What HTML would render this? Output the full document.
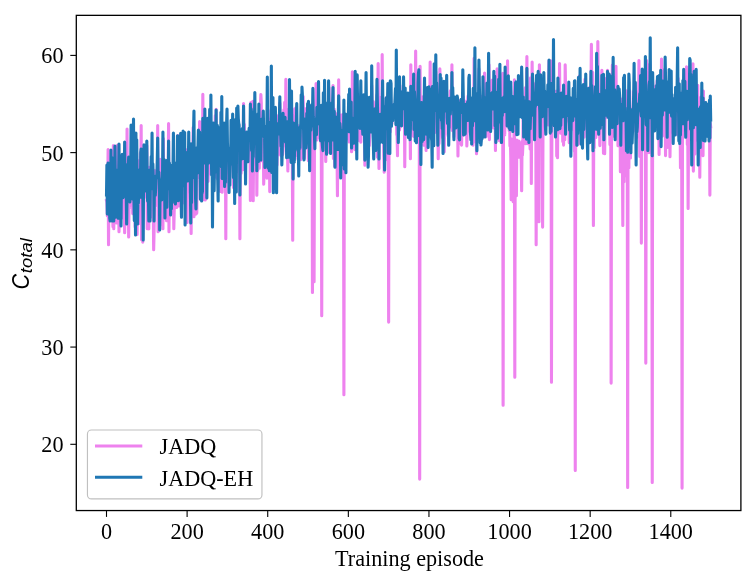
<!DOCTYPE html>
<html><head><meta charset="utf-8"><style>
html,body{margin:0;padding:0;background:#fff;}
body{width:755px;height:583px;overflow:hidden;}
svg{display:block;will-change:transform;}
.t{font-family:"Liberation Serif",serif;font-size:22.2px;fill:#000;}
.s{font-family:"Liberation Sans",sans-serif;font-style:italic;fill:#000;}
</style></head><body>
<svg width="755" height="583" viewBox="0 0 755 583">
<rect x="0" y="0" width="755" height="583" fill="#fff"/>
<defs><clipPath id="c"><rect x="76.3" y="15.35" width="664.6" height="495.1"/></clipPath></defs>
<g clip-path="url(#c)" fill="none" stroke-width="3.1" stroke-linejoin="round" stroke-linecap="square">
<polyline stroke="#ee82ee" points="106.50,200.5 106.90,201.7 107.31,215.8 107.71,190.5 108.11,149.5 108.52,244.8 108.92,196.6 109.32,184.4 109.72,199.7 110.13,209.1 110.53,206.5 110.93,193.0 111.34,203.3 111.74,208.8 112.14,202.6 112.55,207.3 112.95,226.7 113.35,145.5 113.76,228.8 114.16,192.5 114.56,198.8 114.96,202.8 115.37,219.0 115.77,210.8 116.17,196.3 116.58,223.0 116.98,200.1 117.38,145.2 117.79,181.5 118.19,180.5 118.59,188.1 118.99,231.8 119.40,204.6 119.80,214.0 120.20,202.9 120.61,195.6 121.01,198.6 121.41,200.6 121.82,214.6 122.22,195.8 122.62,217.6 123.03,200.6 123.43,211.3 123.83,196.7 124.23,203.1 124.64,232.8 125.04,197.0 125.44,185.1 125.85,174.8 126.25,161.7 126.65,203.8 127.06,129.0 127.46,218.8 127.86,212.3 128.27,193.5 128.67,237.0 129.07,200.1 129.47,207.9 129.88,194.6 130.28,184.5 130.68,182.7 131.09,183.5 131.49,201.1 131.89,176.9 132.30,152.5 132.70,213.6 133.10,175.3 133.51,196.7 133.91,197.7 134.31,201.8 134.71,197.8 135.12,226.9 135.52,207.1 135.92,199.4 136.33,200.8 136.73,197.1 137.13,234.4 137.54,185.4 137.94,203.3 138.34,198.0 138.74,160.9 139.15,188.6 139.55,223.5 139.95,207.9 140.36,153.1 140.76,188.1 141.16,125.5 141.57,239.8 141.97,174.3 142.37,165.2 142.78,242.1 143.18,194.3 143.58,189.7 143.98,163.7 144.39,192.7 144.79,191.9 145.19,196.9 145.60,148.5 146.00,179.8 146.40,184.7 146.81,145.5 147.21,228.8 147.61,199.9 148.02,188.7 148.42,219.4 148.82,229.0 149.22,167.3 149.63,184.2 150.03,197.7 150.43,206.3 150.84,168.0 151.24,182.3 151.64,194.4 152.05,201.0 152.45,217.2 152.85,212.6 153.25,206.5 153.66,249.8 154.06,232.3 154.46,197.3 154.87,170.5 155.27,184.5 155.67,196.7 156.08,189.5 156.48,191.1 156.88,204.5 157.29,205.6 157.69,125.5 158.09,231.8 158.49,188.7 158.90,229.4 159.30,194.0 159.70,225.8 160.11,159.4 160.51,208.8 160.91,191.7 161.32,197.0 161.72,177.5 162.12,190.7 162.53,182.3 162.93,228.8 163.33,138.5 163.73,209.7 164.14,193.7 164.54,177.3 164.94,180.0 165.35,187.1 165.75,200.2 166.15,170.0 166.56,220.8 166.96,213.7 167.36,178.6 167.77,190.9 168.17,182.9 168.57,123.5 168.97,231.8 169.38,185.6 169.78,188.6 170.18,189.6 170.59,191.8 170.99,204.0 171.39,177.1 171.80,171.6 172.20,182.5 172.60,187.1 173.00,213.1 173.41,191.6 173.81,228.8 174.21,211.0 174.62,177.7 175.02,177.3 175.42,183.2 175.83,178.9 176.23,189.5 176.63,207.5 177.04,171.0 177.44,185.7 177.84,135.5 178.24,205.8 178.65,206.0 179.05,192.1 179.45,201.8 179.86,165.2 180.26,171.7 180.66,157.8 181.07,196.2 181.47,215.2 181.87,138.1 182.28,192.8 182.68,189.3 183.08,203.0 183.48,173.4 183.89,188.4 184.29,171.6 184.69,157.0 185.10,189.7 185.50,149.4 185.90,187.4 186.31,173.6 186.71,180.5 187.11,222.4 187.52,171.5 187.92,179.8 188.32,176.2 188.72,168.2 189.13,179.6 189.53,167.1 189.93,191.6 190.34,183.0 190.74,172.0 191.14,233.4 191.55,174.0 191.95,184.2 192.35,186.8 192.75,169.7 193.16,127.6 193.56,198.5 193.96,216.8 194.37,162.6 194.77,160.8 195.17,174.7 195.58,179.5 195.98,214.2 196.38,212.7 196.79,213.1 197.19,165.3 197.59,178.3 197.99,172.9 198.40,163.4 198.80,144.7 199.20,158.2 199.61,121.5 200.01,147.9 200.41,155.4 200.82,137.2 201.22,176.5 201.62,171.8 202.03,189.8 202.43,172.1 202.83,94.2 203.23,176.2 203.64,199.8 204.04,164.8 204.44,174.6 204.85,157.0 205.25,200.0 205.65,172.4 206.06,151.4 206.46,158.1 206.86,150.8 207.26,152.2 207.67,159.8 208.07,181.5 208.47,164.9 208.88,157.3 209.28,163.0 209.68,156.2 210.09,173.8 210.49,133.9 210.89,156.4 211.30,157.7 211.70,149.1 212.10,172.7 212.50,148.5 212.91,155.5 213.31,131.1 213.71,172.8 214.12,157.5 214.52,167.3 214.92,149.4 215.33,115.5 215.73,154.6 216.13,109.3 216.54,177.5 216.94,155.7 217.34,178.5 217.74,127.4 218.15,161.9 218.55,151.5 218.95,159.4 219.36,149.4 219.76,184.2 220.16,154.1 220.57,191.4 220.97,139.2 221.37,159.4 221.78,159.9 222.18,192.2 222.58,155.9 222.98,160.9 223.39,132.9 223.79,154.0 224.19,169.0 224.60,138.7 225.00,159.1 225.40,149.7 225.81,238.8 226.21,140.4 226.61,172.8 227.01,165.6 227.42,155.4 227.82,155.7 228.22,166.9 228.63,161.7 229.03,182.1 229.43,182.4 229.84,157.6 230.24,163.0 230.64,159.0 231.05,151.4 231.45,156.2 231.85,164.9 232.25,158.6 232.66,160.9 233.06,156.6 233.46,187.4 233.87,167.2 234.27,139.6 234.67,169.5 235.08,179.8 235.48,169.5 235.88,151.9 236.29,152.8 236.69,147.6 237.09,129.0 237.49,155.9 237.90,171.7 238.30,166.0 238.70,161.0 239.11,170.6 239.51,160.3 239.91,238.8 240.32,166.5 240.72,150.8 241.12,173.2 241.53,148.8 241.93,132.8 242.33,161.1 242.73,134.2 243.14,169.6 243.54,103.5 243.94,162.4 244.35,124.3 244.75,152.7 245.15,156.6 245.56,134.6 245.96,153.5 246.36,135.3 246.76,144.0 247.17,145.9 247.57,152.5 247.97,133.2 248.38,137.0 248.78,157.8 249.18,154.4 249.59,146.5 249.99,140.7 250.39,200.4 250.80,102.5 251.20,140.5 251.60,161.1 252.00,134.5 252.41,155.0 252.81,101.3 253.21,200.8 253.62,147.9 254.02,150.0 254.42,158.1 254.83,162.3 255.23,133.0 255.63,127.4 256.04,159.0 256.44,129.1 256.84,195.2 257.24,150.9 257.65,171.4 258.05,153.4 258.45,138.8 258.86,134.3 259.26,168.3 259.66,146.4 260.07,142.1 260.47,105.3 260.87,94.5 261.28,102.7 261.68,160.8 262.08,128.9 262.48,124.8 262.89,141.4 263.29,127.2 263.69,184.2 264.10,169.9 264.50,156.8 264.90,130.1 265.31,163.6 265.71,136.9 266.11,140.6 266.51,134.3 266.92,178.1 267.32,133.8 267.72,149.0 268.13,144.0 268.53,146.7 268.93,119.3 269.34,141.3 269.74,191.6 270.14,142.0 270.55,127.8 270.95,110.4 271.35,134.7 271.75,148.9 272.16,99.5 272.56,108.0 272.96,144.2 273.37,158.5 273.77,136.7 274.17,142.2 274.58,128.7 274.98,129.5 275.38,137.4 275.79,126.8 276.19,137.1 276.59,121.7 276.99,165.0 277.40,143.8 277.80,115.9 278.20,126.1 278.61,154.3 279.01,135.5 279.41,130.7 279.82,103.1 280.22,146.0 280.62,142.2 281.02,155.8 281.43,125.6 281.83,149.8 282.23,154.7 282.64,154.5 283.04,149.6 283.44,139.1 283.85,109.8 284.25,145.3 284.65,102.4 285.06,118.2 285.46,138.5 285.86,79.3 286.26,140.0 286.67,156.6 287.07,128.2 287.47,152.8 287.88,170.9 288.28,109.6 288.68,139.7 289.09,148.4 289.49,148.8 289.89,133.0 290.30,150.2 290.70,133.8 291.10,125.6 291.50,136.9 291.91,139.5 292.31,149.9 292.71,240.2 293.12,115.6 293.52,138.8 293.92,132.5 294.33,143.2 294.73,108.7 295.13,141.6 295.54,147.6 295.94,107.8 296.34,108.7 296.74,155.5 297.15,155.8 297.55,125.2 297.95,159.0 298.36,134.9 298.76,137.7 299.16,136.5 299.57,132.6 299.97,153.8 300.37,139.9 300.77,159.6 301.18,140.1 301.58,158.1 301.98,137.2 302.39,136.0 302.79,137.9 303.19,96.5 303.60,143.8 304.00,121.4 304.40,158.3 304.81,108.6 305.21,139.8 305.61,141.9 306.01,134.3 306.42,115.9 306.82,142.8 307.22,127.8 307.63,126.4 308.03,136.7 308.43,160.7 308.84,114.1 309.24,129.3 309.64,134.7 310.05,123.9 310.45,149.0 310.85,131.6 311.25,109.5 311.66,116.5 312.06,115.4 312.46,292.4 312.87,145.1 313.27,112.0 313.67,114.9 314.08,281.8 314.48,128.6 314.88,125.4 315.29,125.0 315.69,114.0 316.09,83.5 316.49,126.1 316.90,139.9 317.30,97.5 317.70,125.3 318.11,123.0 318.51,137.8 318.91,130.9 319.32,126.2 319.72,113.9 320.12,130.2 320.52,141.6 320.93,133.6 321.33,153.4 321.73,315.8 322.14,119.9 322.54,116.0 322.94,134.1 323.35,134.6 323.75,127.5 324.15,132.9 324.56,123.7 324.96,137.3 325.36,130.0 325.76,161.4 326.17,127.5 326.57,129.9 326.97,116.2 327.38,149.3 327.78,137.4 328.18,113.3 328.59,118.3 328.99,87.5 329.39,152.5 329.80,116.9 330.20,142.0 330.60,130.1 331.00,105.2 331.41,120.7 331.81,123.5 332.21,140.4 332.62,128.4 333.02,85.5 333.42,158.5 333.83,132.8 334.23,109.1 334.63,166.3 335.04,137.5 335.44,131.1 335.84,118.4 336.24,138.1 336.65,113.8 337.05,156.6 337.45,195.8 337.86,138.9 338.26,141.4 338.66,79.9 339.07,131.8 339.47,143.6 339.87,115.3 340.27,138.3 340.68,140.4 341.08,122.5 341.48,115.0 341.89,153.0 342.29,149.9 342.69,114.6 343.10,134.4 343.50,120.2 343.90,394.8 344.31,154.7 344.71,136.1 345.11,139.7 345.51,124.4 345.92,139.9 346.32,135.1 346.72,125.9 347.13,129.7 347.53,121.7 347.93,131.6 348.34,118.0 348.74,127.5 349.14,142.0 349.55,132.2 349.95,130.3 350.35,111.1 350.75,138.6 351.16,130.0 351.56,151.8 351.96,148.9 352.37,71.7 352.77,126.7 353.17,134.3 353.58,107.5 353.98,98.0 354.38,134.4 354.78,129.4 355.19,149.7 355.59,118.3 355.99,123.5 356.40,133.0 356.80,125.7 357.20,136.3 357.61,119.4 358.01,135.5 358.41,136.5 358.82,140.4 359.22,118.1 359.62,140.5 360.02,114.4 360.43,122.2 360.83,142.2 361.23,123.6 361.64,122.0 362.04,115.6 362.44,119.9 362.85,119.3 363.25,124.9 363.65,120.5 364.06,114.0 364.46,107.6 364.86,165.2 365.26,122.9 365.67,106.2 366.07,114.6 366.47,124.2 366.88,110.5 367.28,139.6 367.68,121.2 368.09,125.9 368.49,125.4 368.89,106.3 369.30,145.8 369.70,135.6 370.10,105.4 370.50,123.0 370.91,121.9 371.31,115.3 371.71,85.5 372.12,113.3 372.52,125.7 372.92,120.0 373.33,101.6 373.73,112.2 374.13,107.1 374.53,126.4 374.94,124.2 375.34,119.8 375.74,124.3 376.15,127.1 376.55,112.4 376.95,94.7 377.36,157.1 377.76,109.9 378.16,63.5 378.57,129.1 378.97,168.5 379.37,103.2 379.77,118.4 380.18,137.1 380.58,97.3 380.98,111.1 381.39,123.2 381.79,133.5 382.19,54.5 382.60,116.4 383.00,121.2 383.40,119.7 383.81,155.8 384.21,172.2 384.61,161.2 385.01,106.9 385.42,109.2 385.82,114.6 386.22,97.7 386.63,102.2 387.03,118.5 387.43,159.8 387.84,110.2 388.24,105.5 388.64,322.1 389.05,110.0 389.45,83.7 389.85,96.4 390.25,131.8 390.66,97.9 391.06,119.1 391.46,113.2 391.87,123.9 392.27,115.1 392.67,106.0 393.08,104.9 393.48,106.0 393.88,105.8 394.28,106.5 394.69,108.3 395.09,116.4 395.49,114.4 395.90,91.7 396.30,111.6 396.70,134.7 397.11,135.7 397.51,155.8 397.91,100.4 398.32,106.9 398.72,98.7 399.12,105.3 399.52,130.0 399.93,125.0 400.33,110.1 400.73,111.9 401.14,115.6 401.54,115.4 401.94,114.9 402.35,116.1 402.75,111.6 403.15,85.5 403.56,113.8 403.96,113.7 404.36,99.3 404.76,166.8 405.17,113.9 405.57,108.7 405.97,120.9 406.38,106.3 406.78,116.2 407.18,115.2 407.59,98.5 407.99,107.8 408.39,110.2 408.79,108.7 409.20,97.1 409.60,106.4 410.00,114.6 410.41,158.8 410.81,64.8 411.21,112.2 411.62,113.2 412.02,105.5 412.42,122.6 412.83,95.9 413.23,136.0 413.63,116.4 414.03,136.5 414.44,116.1 414.84,111.9 415.24,112.7 415.65,51.1 416.05,116.9 416.45,114.3 416.86,105.2 417.26,105.2 417.66,115.9 418.07,117.1 418.47,128.3 418.87,104.0 419.27,117.8 419.68,479.1 420.08,66.2 420.48,117.9 420.89,133.2 421.29,102.9 421.69,105.6 422.10,123.1 422.50,117.6 422.90,96.8 423.31,121.6 423.71,145.1 424.11,123.6 424.51,143.3 424.92,123.6 425.32,110.9 425.72,126.9 426.13,150.4 426.53,95.9 426.93,112.6 427.34,143.3 427.74,121.1 428.14,113.2 428.54,123.5 428.95,122.6 429.35,103.3 429.75,116.4 430.16,62.1 430.56,99.7 430.96,118.4 431.37,99.9 431.77,109.9 432.17,125.9 432.58,112.9 432.98,128.9 433.38,123.7 433.78,120.2 434.19,102.5 434.59,115.2 434.99,132.5 435.40,119.7 435.80,71.7 436.20,116.1 436.61,115.3 437.01,115.8 437.41,113.9 437.82,127.4 438.22,158.8 438.62,130.7 439.02,143.6 439.43,134.2 439.83,68.9 440.23,80.6 440.64,82.4 441.04,103.5 441.44,116.3 441.85,109.9 442.25,100.4 442.65,137.5 443.06,113.7 443.46,104.9 443.86,115.4 444.26,151.7 444.67,121.4 445.07,135.4 445.47,98.8 445.88,121.6 446.28,110.2 446.68,110.8 447.09,113.4 447.49,113.5 447.89,123.5 448.29,109.0 448.70,113.6 449.10,113.0 449.50,117.4 449.91,115.8 450.31,90.9 450.71,126.9 451.12,118.0 451.52,102.9 451.92,64.8 452.33,130.4 452.73,128.6 453.13,112.3 453.53,107.1 453.94,136.8 454.34,120.2 454.74,117.8 455.15,112.0 455.55,126.3 455.95,104.7 456.36,123.7 456.76,122.2 457.16,113.9 457.57,110.4 457.97,155.9 458.37,110.6 458.77,111.1 459.18,106.7 459.58,120.7 459.98,100.8 460.39,112.1 460.79,110.8 461.19,144.2 461.60,145.1 462.00,113.0 462.40,103.0 462.81,135.1 463.21,96.7 463.61,129.7 464.01,114.6 464.42,100.8 464.82,108.9 465.22,104.5 465.63,110.3 466.03,121.9 466.43,110.3 466.84,146.0 467.24,129.3 467.64,101.4 468.04,96.0 468.45,115.4 468.85,106.7 469.25,103.2 469.66,131.0 470.06,111.7 470.46,102.8 470.87,111.0 471.27,110.6 471.67,119.4 472.08,106.9 472.48,109.0 472.88,145.1 473.28,122.2 473.69,129.2 474.09,58.2 474.49,116.3 474.90,141.6 475.30,122.4 475.70,118.2 476.11,97.6 476.51,153.8 476.91,103.6 477.32,121.6 477.72,116.2 478.12,109.2 478.52,137.8 478.93,68.9 479.33,104.5 479.73,105.2 480.14,125.6 480.54,104.6 480.94,122.0 481.35,96.2 481.75,97.4 482.15,102.6 482.55,99.7 482.96,104.4 483.36,95.7 483.76,92.2 484.17,102.4 484.57,73.0 484.97,101.4 485.38,103.2 485.78,131.5 486.18,136.8 486.59,108.4 486.99,128.2 487.39,104.8 487.79,99.4 488.20,108.0 488.60,118.4 489.00,64.8 489.41,139.6 489.81,105.7 490.21,106.7 490.62,109.8 491.02,105.1 491.42,94.9 491.83,97.2 492.23,80.1 492.63,121.2 493.03,109.3 493.44,127.9 493.84,100.4 494.24,106.5 494.65,106.8 495.05,91.7 495.45,150.4 495.86,107.7 496.26,103.6 496.66,101.4 497.07,68.9 497.47,85.6 497.87,107.5 498.27,95.5 498.68,86.2 499.08,140.5 499.48,120.9 499.89,101.9 500.29,104.9 500.69,96.7 501.10,142.5 501.50,101.1 501.90,117.6 502.30,113.5 502.71,73.4 503.11,405.2 503.51,106.2 503.92,80.6 504.32,125.4 504.72,134.9 505.13,110.7 505.53,103.6 505.93,100.0 506.34,95.7 506.74,109.4 507.14,97.0 507.54,60.7 507.95,113.3 508.35,120.5 508.75,110.6 509.16,130.8 509.56,117.1 509.96,145.9 510.37,138.4 510.77,157.5 511.17,199.8 511.58,156.8 511.98,139.3 512.38,140.4 512.78,140.9 513.19,201.8 513.59,158.3 513.99,138.6 514.40,79.9 514.80,377.2 515.20,151.4 515.61,155.0 516.01,151.4 516.41,195.8 516.82,140.0 517.22,157.4 517.62,145.1 518.02,141.7 518.43,145.2 518.83,141.1 519.23,157.1 519.64,143.3 520.04,152.6 520.44,148.3 520.85,152.4 521.25,161.2 521.65,190.8 522.05,141.4 522.46,155.2 522.86,145.7 523.26,99.5 523.67,105.9 524.07,112.0 524.47,105.6 524.88,97.0 525.28,87.8 525.68,143.8 526.09,115.6 526.49,105.6 526.89,56.5 527.29,118.7 527.70,112.5 528.10,143.7 528.50,120.3 528.91,130.5 529.31,109.1 529.71,117.0 530.12,149.0 530.52,77.9 530.92,108.0 531.33,183.4 531.73,100.6 532.13,62.1 532.53,108.5 532.94,87.2 533.34,96.2 533.74,84.3 534.15,114.5 534.55,83.8 534.95,126.9 535.36,109.0 535.76,105.4 536.16,244.8 536.57,104.9 536.97,100.3 537.37,120.9 537.77,107.4 538.18,77.2 538.58,128.4 538.98,221.8 539.39,64.8 539.79,99.6 540.19,105.8 540.60,111.6 541.00,89.0 541.40,103.4 541.80,100.0 542.21,118.6 542.61,227.1 543.01,125.1 543.42,78.4 543.82,124.7 544.22,102.6 544.63,92.6 545.03,98.4 545.43,126.5 545.84,92.8 546.24,114.2 546.64,119.7 547.04,97.6 547.45,105.2 547.85,103.6 548.25,124.9 548.66,92.4 549.06,60.7 549.46,107.4 549.87,89.9 550.27,96.4 550.67,60.7 551.08,107.1 551.48,382.2 551.88,117.5 552.28,96.4 552.69,122.3 553.09,99.6 553.49,122.4 553.90,110.6 554.30,110.7 554.70,107.5 555.11,113.5 555.51,100.6 555.91,112.3 556.31,91.0 556.72,155.9 557.12,137.2 557.52,157.8 557.93,99.7 558.33,124.5 558.73,109.9 559.14,106.5 559.54,63.5 559.94,107.3 560.35,107.6 560.75,133.2 561.15,116.8 561.55,97.6 561.96,118.2 562.36,112.2 562.76,141.4 563.17,104.6 563.57,145.1 563.97,111.2 564.38,102.9 564.78,139.8 565.18,64.8 565.59,89.9 565.99,105.3 566.39,111.8 566.79,107.2 567.20,113.9 567.60,103.0 568.00,121.1 568.41,115.3 568.81,117.0 569.21,142.7 569.62,103.7 570.02,113.7 570.42,103.2 570.83,109.6 571.23,114.9 571.63,122.4 572.03,105.1 572.44,125.4 572.84,121.9 573.24,115.3 573.65,130.3 574.05,114.5 574.45,151.6 574.86,144.7 575.26,470.4 575.66,142.7 576.06,125.0 576.47,117.2 576.87,119.4 577.27,126.8 577.68,144.6 578.08,135.3 578.48,144.2 578.89,114.2 579.29,76.1 579.69,101.9 580.10,113.5 580.50,97.3 580.90,117.0 581.30,99.0 581.71,109.5 582.11,109.1 582.51,140.8 582.92,113.4 583.32,96.6 583.72,121.8 584.13,137.3 584.53,119.2 584.93,79.2 585.34,125.7 585.74,101.7 586.14,123.6 586.54,123.6 586.95,116.8 587.35,89.4 587.75,107.7 588.16,95.1 588.56,120.7 588.96,87.7 589.37,109.5 589.77,118.7 590.17,123.1 590.58,108.8 590.98,89.6 591.38,44.2 591.78,104.4 592.19,110.3 592.59,72.2 592.99,104.6 593.40,225.4 593.80,117.6 594.20,147.8 594.61,112.1 595.01,95.5 595.41,101.1 595.81,137.5 596.22,93.0 596.62,114.9 597.02,106.7 597.43,116.9 597.83,41.5 598.23,91.5 598.64,110.1 599.04,101.1 599.44,118.3 599.85,145.6 600.25,93.2 600.65,99.7 601.05,95.4 601.46,104.3 601.86,70.3 602.26,109.6 602.67,103.7 603.07,107.5 603.47,153.2 603.88,121.5 604.28,95.8 604.68,153.8 605.09,109.1 605.49,107.0 605.89,78.5 606.29,114.7 606.70,117.3 607.10,106.4 607.50,70.3 607.91,113.6 608.31,86.9 608.71,87.0 609.12,110.8 609.52,108.0 609.92,144.6 610.33,102.8 610.73,99.6 611.13,383.1 611.53,125.3 611.94,116.4 612.34,65.1 612.74,97.6 613.15,136.2 613.55,113.6 613.95,110.2 614.36,92.4 614.76,103.8 615.16,77.4 615.56,125.2 615.97,66.2 616.37,113.4 616.77,122.2 617.18,98.9 617.58,106.6 617.98,145.8 618.39,118.0 618.79,115.7 619.19,95.1 619.60,135.7 620.00,105.9 620.40,171.8 620.80,128.5 621.21,99.0 621.61,113.3 622.01,117.5 622.42,156.8 622.82,225.4 623.22,113.1 623.63,121.0 624.03,181.8 624.43,97.1 624.84,105.6 625.24,175.8 625.64,121.3 626.04,114.8 626.45,108.8 626.85,90.8 627.25,125.3 627.66,487.4 628.06,124.3 628.46,143.3 628.87,167.8 629.27,120.4 629.67,90.7 630.07,123.8 630.48,157.9 630.88,110.4 631.28,130.7 631.69,117.0 632.09,126.4 632.49,123.3 632.90,108.2 633.30,114.1 633.70,91.6 634.11,94.2 634.51,106.2 634.91,121.4 635.31,110.3 635.72,131.1 636.12,118.6 636.52,137.6 636.93,124.8 637.33,111.1 637.73,91.7 638.14,112.3 638.54,112.8 638.94,60.6 639.35,96.0 639.75,156.4 640.15,126.0 640.55,107.4 640.96,79.8 641.36,243.1 641.76,113.1 642.17,147.8 642.57,73.5 642.97,119.2 643.38,144.4 643.78,146.4 644.18,114.4 644.59,122.7 644.99,117.4 645.39,68.3 645.79,363.1 646.20,139.5 646.60,60.6 647.00,96.5 647.41,114.9 647.81,131.8 648.21,107.4 648.62,114.3 649.02,152.6 649.42,126.0 649.82,64.1 650.23,116.9 650.63,91.0 651.03,141.1 651.44,117.0 651.84,130.1 652.24,482.4 652.65,81.7 653.05,97.0 653.45,85.7 653.86,116.5 654.26,125.0 654.66,106.4 655.06,121.3 655.47,97.1 655.87,105.7 656.27,105.2 656.68,107.0 657.08,80.6 657.48,93.8 657.89,87.9 658.29,111.3 658.69,106.3 659.10,154.5 659.50,110.7 659.90,95.8 660.30,87.9 660.71,112.3 661.11,119.2 661.51,59.1 661.92,107.1 662.32,136.1 662.72,126.2 663.13,89.1 663.53,106.5 663.93,122.7 664.34,109.4 664.74,69.4 665.14,102.4 665.54,155.6 665.95,102.1 666.35,142.8 666.75,118.5 667.16,147.4 667.56,117.1 667.96,139.3 668.37,104.6 668.77,131.1 669.17,107.9 669.57,118.4 669.98,156.8 670.38,123.5 670.78,104.1 671.19,132.5 671.59,101.1 671.99,104.1 672.40,107.2 672.80,124.7 673.20,114.6 673.61,99.0 674.01,106.9 674.41,122.0 674.81,125.7 675.22,115.4 675.62,101.7 676.02,130.6 676.43,103.7 676.83,114.9 677.23,119.2 677.64,134.8 678.04,78.2 678.44,96.5 678.85,118.8 679.25,113.0 679.65,123.9 680.05,115.6 680.46,167.8 680.86,128.2 681.26,135.4 681.67,102.4 682.07,488.1 682.47,145.9 682.88,91.4 683.28,109.2 683.68,112.3 684.08,112.9 684.49,129.0 684.89,73.2 685.29,84.4 685.70,122.4 686.10,103.5 686.50,66.8 686.91,95.2 687.31,144.6 687.71,111.4 688.12,208.4 688.52,133.6 688.92,114.4 689.32,103.0 689.73,89.9 690.13,75.8 690.53,129.4 690.94,94.7 691.34,102.6 691.74,114.7 692.15,88.4 692.55,121.1 692.95,63.7 693.36,171.1 693.76,110.6 694.16,108.1 694.56,124.5 694.97,153.9 695.37,118.2 695.77,136.4 696.18,102.9 696.58,125.0 696.98,107.9 697.39,110.1 697.79,85.2 698.19,140.9 698.60,103.8 699.00,108.7 699.40,113.6 699.80,177.2 700.21,129.2 700.61,98.0 701.01,97.0 701.42,109.6 701.82,134.6 702.22,130.6 702.63,136.3 703.03,155.6 703.43,91.0 703.83,121.8 704.24,113.2 704.64,105.6 705.04,114.2 705.45,125.5 705.85,121.5 706.25,126.0 706.66,122.5 707.06,121.6 707.46,120.9 707.87,127.3 708.27,124.2 708.67,123.8 709.07,116.4 709.48,112.1 709.88,195.1 710.28,122.9 710.69,126.8"/>
<polyline stroke="#1f77b4" points="106.50,195.0 106.90,165.0 107.31,214.0 107.71,170.0 108.11,163.0 108.52,168.0 108.92,205.0 109.32,175.0 109.72,218.0 110.13,221.0 110.53,210.0 110.93,150.0 111.34,200.0 111.74,158.0 112.14,221.0 112.55,158.0 112.95,173.4 113.35,184.6 113.76,221.0 114.16,179.6 114.56,193.7 114.96,146.0 115.37,185.4 115.77,217.1 116.17,214.4 116.58,191.7 116.98,215.0 117.38,177.2 117.79,170.1 118.19,218.2 118.59,183.7 118.99,144.0 119.40,186.5 119.80,193.0 120.20,185.8 120.61,205.6 121.01,226.0 121.41,182.8 121.82,180.8 122.22,154.4 122.62,186.0 123.03,197.7 123.43,184.0 123.83,172.4 124.23,196.3 124.64,142.0 125.04,181.2 125.44,190.6 125.85,164.6 126.25,195.2 126.65,224.0 127.06,193.3 127.46,168.5 127.86,194.6 128.27,168.7 128.67,157.0 129.07,199.4 129.47,200.2 129.88,201.9 130.28,181.8 130.68,174.3 131.09,125.1 131.49,187.8 131.89,191.3 132.30,198.9 132.70,175.3 133.10,171.6 133.51,119.0 133.91,196.8 134.31,220.5 134.71,166.1 135.12,182.5 135.52,235.0 135.92,133.0 136.33,185.5 136.73,139.8 137.13,188.5 137.54,224.0 137.94,197.4 138.34,203.2 138.74,187.6 139.15,171.9 139.55,192.9 139.95,169.6 140.36,197.3 140.76,151.9 141.16,149.0 141.57,165.9 141.97,177.8 142.37,175.5 142.78,188.8 143.18,240.0 143.58,179.0 143.98,144.8 144.39,173.5 144.79,180.2 145.19,161.2 145.60,187.0 146.00,179.1 146.40,191.1 146.81,141.0 147.21,180.9 147.61,200.9 148.02,187.0 148.42,195.9 148.82,221.0 149.22,183.9 149.63,170.0 150.03,221.0 150.43,172.8 150.84,173.5 151.24,156.5 151.64,173.4 152.05,133.0 152.45,188.8 152.85,163.7 153.25,177.8 153.66,179.1 154.06,221.0 154.46,179.7 154.87,183.1 155.27,195.3 155.67,188.1 156.08,175.8 156.48,178.3 156.88,175.5 157.29,159.6 157.69,138.0 158.09,171.5 158.49,172.6 158.90,172.4 159.30,180.4 159.70,230.0 160.11,188.1 160.51,188.8 160.91,186.8 161.32,180.0 161.72,200.0 162.12,183.0 162.53,176.7 162.93,132.0 163.33,176.1 163.73,165.5 164.14,159.6 164.54,176.1 164.94,218.0 165.35,169.2 165.75,185.0 166.15,176.0 166.56,160.6 166.96,207.2 167.36,172.3 167.77,168.5 168.17,188.8 168.57,141.0 168.97,181.9 169.38,162.7 169.78,171.4 170.18,165.0 170.59,215.0 170.99,171.0 171.39,208.8 171.80,177.2 172.20,179.4 172.60,174.0 173.00,167.7 173.41,133.0 173.81,198.8 174.21,162.5 174.62,202.4 175.02,182.2 175.42,204.0 175.83,177.6 176.23,170.4 176.63,170.4 177.04,173.8 177.44,135.8 177.84,136.0 178.24,200.8 178.65,166.3 179.05,181.3 179.45,171.1 179.86,198.0 180.26,192.7 180.66,133.2 181.07,165.3 181.47,217.2 181.87,162.8 182.28,185.9 182.68,173.4 183.08,131.0 183.48,174.0 183.89,166.0 184.29,179.5 184.69,132.6 185.10,225.0 185.50,166.2 185.90,169.4 186.31,152.6 186.71,159.6 187.11,171.6 187.52,166.6 187.92,181.0 188.32,172.8 188.72,132.0 189.13,177.6 189.53,172.3 189.93,162.0 190.34,179.8 190.74,223.0 191.14,143.7 191.55,202.6 191.95,169.2 192.35,178.5 192.75,168.5 193.16,170.9 193.56,131.0 193.96,111.0 194.37,172.7 194.77,168.7 195.17,150.6 195.58,198.7 195.98,209.0 196.38,166.0 196.79,147.9 197.19,173.3 197.59,156.5 197.99,145.8 198.40,130.0 198.80,149.0 199.20,150.0 199.61,132.0 200.01,161.9 200.41,199.3 200.82,198.0 201.22,175.7 201.62,201.0 202.03,179.0 202.43,192.4 202.83,118.4 203.23,139.5 203.64,155.6 204.04,135.4 204.44,163.0 204.85,109.0 205.25,149.7 205.65,150.7 206.06,134.6 206.46,167.8 206.86,198.0 207.26,161.0 207.67,118.2 208.07,154.7 208.47,163.3 208.88,139.5 209.28,152.2 209.68,109.4 210.09,129.4 210.49,143.1 210.89,95.0 211.30,153.4 211.70,175.3 212.10,147.5 212.50,227.0 212.91,168.8 213.31,123.1 213.71,128.7 214.12,190.7 214.52,162.9 214.92,146.6 215.33,132.6 215.73,148.1 216.13,110.0 216.54,172.1 216.94,149.3 217.34,125.4 217.74,180.3 218.15,201.0 218.55,130.8 218.95,130.4 219.36,151.3 219.76,127.5 220.16,157.0 220.57,156.4 220.97,112.2 221.37,166.7 221.78,96.5 222.18,178.5 222.58,158.4 222.98,159.3 223.39,136.1 223.79,179.0 224.19,123.1 224.60,186.4 225.00,156.2 225.40,182.2 225.81,146.2 226.21,160.7 226.61,123.4 227.01,109.0 227.42,142.6 227.82,151.8 228.22,151.8 228.63,150.0 229.03,192.5 229.43,151.9 229.84,185.3 230.24,148.3 230.64,164.1 231.05,120.4 231.45,145.6 231.85,150.5 232.25,152.3 232.66,114.0 233.06,145.6 233.46,177.5 233.87,153.1 234.27,150.9 234.67,203.5 235.08,119.7 235.48,137.6 235.88,132.2 236.29,191.9 236.69,108.0 237.09,144.6 237.49,121.5 237.90,106.0 238.30,118.6 238.70,123.2 239.11,124.9 239.51,139.9 239.91,195.0 240.32,158.7 240.72,138.9 241.12,139.3 241.53,159.1 241.93,154.3 242.33,128.6 242.73,157.1 243.14,158.5 243.54,106.0 243.94,148.1 244.35,132.7 244.75,135.1 245.15,143.4 245.56,184.0 245.96,142.4 246.36,143.6 246.76,132.1 247.17,151.6 247.57,134.7 247.97,161.7 248.38,141.3 248.78,134.9 249.18,128.2 249.59,139.7 249.99,136.5 250.39,104.0 250.80,138.9 251.20,108.9 251.60,150.4 252.00,111.6 252.41,171.0 252.81,147.6 253.21,157.4 253.62,139.9 254.02,121.9 254.42,132.9 254.83,92.5 255.23,137.2 255.63,130.1 256.04,138.2 256.44,121.9 256.84,170.7 257.24,133.3 257.65,129.9 258.05,113.8 258.45,161.4 258.86,104.0 259.26,145.2 259.66,126.7 260.07,159.9 260.47,144.1 260.87,160.0 261.28,119.4 261.68,131.1 262.08,128.4 262.48,135.4 262.89,123.0 263.29,111.0 263.69,131.7 264.10,136.8 264.50,129.1 264.90,167.5 265.31,130.1 265.71,126.2 266.11,146.4 266.51,132.3 266.92,125.3 267.32,77.0 267.72,163.7 268.13,168.0 268.53,138.1 268.93,125.7 269.34,170.7 269.74,122.3 270.14,127.6 270.55,134.6 270.95,130.5 271.35,66.0 271.75,172.4 272.16,118.5 272.56,136.1 272.96,97.6 273.37,192.7 273.77,119.9 274.17,188.3 274.58,109.0 274.98,149.9 275.38,107.4 275.79,137.9 276.19,130.0 276.59,192.7 276.99,139.6 277.40,125.6 277.80,132.9 278.20,123.6 278.61,129.4 279.01,133.9 279.41,117.2 279.82,96.7 280.22,131.1 280.62,132.8 281.02,146.1 281.43,138.3 281.83,165.0 282.23,152.0 282.64,121.6 283.04,113.2 283.44,131.0 283.85,117.3 284.25,135.9 284.65,136.5 285.06,117.3 285.46,141.9 285.86,136.3 286.26,132.7 286.67,157.7 287.07,150.6 287.47,124.9 287.88,121.5 288.28,157.2 288.68,121.2 289.09,144.3 289.49,79.5 289.89,129.7 290.30,133.6 290.70,153.7 291.10,162.5 291.50,91.0 291.91,137.1 292.31,127.5 292.71,123.9 293.12,179.0 293.52,123.0 293.92,137.3 294.33,161.9 294.73,139.6 295.13,137.3 295.54,138.0 295.94,142.2 296.34,124.0 296.74,103.5 297.15,142.2 297.55,148.7 297.95,150.6 298.36,150.2 298.76,176.0 299.16,127.8 299.57,130.0 299.97,148.4 300.37,128.9 300.77,123.7 301.18,94.7 301.58,124.7 301.98,87.0 302.39,95.0 302.79,118.0 303.19,124.6 303.60,130.2 304.00,160.0 304.40,144.3 304.81,119.1 305.21,129.5 305.61,136.3 306.01,148.0 306.42,141.4 306.82,113.2 307.22,135.4 307.63,103.5 308.03,124.0 308.43,101.4 308.84,113.9 309.24,131.8 309.64,170.7 310.05,119.2 310.45,116.8 310.85,130.3 311.25,119.6 311.66,104.8 312.06,119.2 312.46,117.6 312.87,88.4 313.27,116.9 313.67,126.4 314.08,122.1 314.48,136.5 314.88,148.8 315.29,118.9 315.69,120.6 316.09,120.2 316.49,134.7 316.90,107.4 317.30,118.9 317.70,121.2 318.11,119.0 318.51,81.6 318.91,120.1 319.32,118.1 319.72,124.7 320.12,115.4 320.52,140.6 320.93,125.8 321.33,105.4 321.73,114.8 322.14,142.2 322.54,147.2 322.94,150.6 323.35,92.7 323.75,129.8 324.15,140.1 324.56,80.2 324.96,124.7 325.36,123.8 325.76,125.7 326.17,121.6 326.57,154.3 326.97,120.6 327.38,112.1 327.78,102.7 328.18,140.7 328.59,80.8 328.99,110.8 329.39,134.8 329.80,117.6 330.20,127.5 330.60,153.5 331.00,115.0 331.41,113.1 331.81,103.0 332.21,104.0 332.62,103.5 333.02,87.6 333.42,139.9 333.83,127.5 334.23,111.3 334.63,127.7 335.04,167.2 335.44,127.0 335.84,117.0 336.24,125.6 336.65,142.6 337.05,124.2 337.45,127.3 337.86,149.5 338.26,118.6 338.66,95.9 339.07,126.9 339.47,136.9 339.87,123.4 340.27,128.2 340.68,178.0 341.08,142.2 341.48,147.4 341.89,130.6 342.29,164.8 342.69,134.2 343.10,139.5 343.50,145.1 343.90,100.0 344.31,169.0 344.71,123.5 345.11,126.0 345.51,114.1 345.92,172.7 346.32,120.7 346.72,130.4 347.13,115.3 347.53,120.4 347.93,121.2 348.34,115.5 348.74,94.2 349.14,131.8 349.55,89.0 349.95,114.1 350.35,110.2 350.75,118.2 351.16,102.1 351.56,148.0 351.96,118.0 352.37,122.7 352.77,139.5 353.17,135.0 353.58,141.2 353.98,143.1 354.38,122.1 354.78,119.7 355.19,71.2 355.59,100.9 355.99,119.2 356.40,132.6 356.80,159.0 357.20,74.9 357.61,107.3 358.01,125.5 358.41,103.2 358.82,105.5 359.22,109.3 359.62,118.5 360.02,128.5 360.43,105.1 360.83,80.8 361.23,115.4 361.64,113.3 362.04,116.8 362.44,126.7 362.85,134.3 363.25,114.7 363.65,94.7 364.06,115.1 364.46,125.6 364.86,160.1 365.26,114.2 365.67,108.3 366.07,72.5 366.47,111.3 366.88,96.9 367.28,115.9 367.68,126.9 368.09,167.2 368.49,155.1 368.89,112.0 369.30,107.4 369.70,97.2 370.10,114.6 370.50,128.4 370.91,107.0 371.31,131.9 371.71,65.7 372.12,105.5 372.52,121.1 372.92,130.4 373.33,143.2 373.73,159.0 374.13,131.1 374.53,128.4 374.94,108.9 375.34,111.5 375.74,150.5 376.15,114.5 376.55,111.7 376.95,79.4 377.36,101.4 377.76,118.0 378.16,113.7 378.57,119.0 378.97,159.0 379.37,121.4 379.77,114.9 380.18,135.9 380.58,130.6 380.98,142.1 381.39,113.9 381.79,123.1 382.19,112.8 382.60,80.8 383.00,118.9 383.40,142.7 383.81,125.9 384.21,106.6 384.61,170.0 385.01,123.1 385.42,119.7 385.82,129.0 386.22,97.9 386.63,128.2 387.03,110.8 387.43,105.2 387.84,83.5 388.24,153.2 388.64,140.3 389.05,91.0 389.45,106.3 389.85,153.5 390.25,80.9 390.66,81.0 391.06,83.5 391.46,126.3 391.87,106.3 392.27,105.6 392.67,120.6 393.08,105.4 393.48,117.6 393.88,106.8 394.28,104.3 394.69,107.1 395.09,97.7 395.49,88.6 395.90,124.6 396.30,50.0 396.70,108.3 397.11,114.1 397.51,122.4 397.91,106.0 398.32,142.5 398.72,115.2 399.12,89.5 399.52,76.7 399.93,114.1 400.33,112.3 400.73,97.3 401.14,116.9 401.54,126.0 401.94,102.3 402.35,102.2 402.75,91.2 403.15,104.4 403.56,76.7 403.96,106.6 404.36,108.8 404.76,108.2 405.17,88.1 405.57,134.3 405.97,114.3 406.38,95.8 406.78,110.4 407.18,118.5 407.59,99.9 407.99,93.0 408.39,137.4 408.79,114.9 409.20,122.9 409.60,103.8 410.00,139.8 410.41,128.5 410.81,86.4 411.21,120.0 411.62,102.8 412.02,119.2 412.42,113.5 412.83,119.4 413.23,108.2 413.63,74.0 414.03,129.4 414.44,91.6 414.84,99.7 415.24,141.0 415.65,139.8 416.05,100.0 416.45,142.7 416.86,106.6 417.26,129.3 417.66,131.0 418.07,82.5 418.47,73.3 418.87,69.8 419.27,135.7 419.68,123.9 420.08,111.6 420.48,127.8 420.89,164.5 421.29,109.6 421.69,102.6 422.10,141.4 422.50,123.5 422.90,111.8 423.31,105.1 423.71,139.6 424.11,109.3 424.51,78.0 424.92,109.8 425.32,118.7 425.72,121.3 426.13,94.0 426.53,134.3 426.93,117.6 427.34,87.6 427.74,126.2 428.14,147.5 428.54,126.5 428.95,86.8 429.35,112.5 429.75,115.7 430.16,89.0 430.56,113.4 430.96,90.8 431.37,137.3 431.77,140.9 432.17,167.2 432.58,86.4 432.98,126.0 433.38,120.3 433.78,145.8 434.19,63.8 434.59,110.7 434.99,105.7 435.40,94.6 435.80,54.7 436.20,107.7 436.61,82.8 437.01,96.9 437.41,123.0 437.82,145.3 438.22,102.3 438.62,117.8 439.02,96.5 439.43,117.0 439.83,116.4 440.23,74.6 440.64,112.3 441.04,78.0 441.44,120.4 441.85,117.9 442.25,128.6 442.65,119.7 443.06,153.5 443.46,109.2 443.86,81.2 444.26,99.8 444.67,104.8 445.07,83.7 445.47,94.1 445.88,110.9 446.28,103.1 446.68,75.3 447.09,117.3 447.49,123.3 447.89,123.8 448.29,107.3 448.70,145.3 449.10,122.9 449.50,98.3 449.91,101.3 450.31,114.1 450.71,104.3 451.12,101.2 451.52,107.6 451.92,72.5 452.33,109.3 452.73,87.5 453.13,103.5 453.53,102.3 453.94,139.8 454.34,96.8 454.74,109.5 455.15,114.4 455.55,106.1 455.95,128.0 456.36,121.7 456.76,104.9 457.16,96.1 457.57,98.6 457.97,102.3 458.37,105.2 458.77,110.5 459.18,138.3 459.58,139.8 459.98,107.7 460.39,111.1 460.79,112.6 461.19,99.3 461.60,109.8 462.00,108.5 462.40,111.3 462.81,69.8 463.21,92.8 463.61,134.9 464.01,117.8 464.42,118.1 464.82,134.3 465.22,133.8 465.63,104.2 466.03,114.3 466.43,110.2 466.84,108.0 467.24,111.4 467.64,101.7 468.04,120.5 468.45,104.2 468.85,78.0 469.25,75.3 469.66,109.6 470.06,97.3 470.46,132.7 470.87,139.8 471.27,100.3 471.67,143.9 472.08,105.5 472.48,125.9 472.88,114.1 473.28,88.3 473.69,94.9 474.09,101.3 474.49,120.6 474.90,47.8 475.30,102.9 475.70,103.1 476.11,98.4 476.51,113.1 476.91,150.7 477.32,93.5 477.72,115.0 478.12,105.5 478.52,102.5 478.93,60.0 479.33,85.8 479.73,100.8 480.14,142.7 480.54,104.4 480.94,145.0 481.35,140.3 481.75,119.6 482.15,138.7 482.55,130.6 482.96,76.7 483.36,95.6 483.76,105.3 484.17,97.4 484.57,113.5 484.97,137.0 485.38,101.0 485.78,115.5 486.18,100.9 486.59,104.7 486.99,83.1 487.39,95.7 487.79,130.0 488.20,106.7 488.60,53.3 489.00,102.7 489.41,111.3 489.81,111.8 490.21,114.0 490.62,131.5 491.02,93.6 491.42,105.4 491.83,102.3 492.23,103.1 492.63,92.3 493.03,96.5 493.44,108.9 493.84,71.2 494.24,108.9 494.65,76.0 495.05,125.8 495.45,91.9 495.86,142.5 496.26,120.6 496.66,94.0 497.07,92.9 497.47,138.3 497.87,118.5 498.27,101.9 498.68,79.3 499.08,103.6 499.48,94.1 499.89,64.3 500.29,122.0 500.69,104.6 501.10,100.8 501.50,142.5 501.90,99.5 502.30,115.7 502.71,98.0 503.11,98.9 503.51,105.8 503.92,97.0 504.32,105.1 504.72,111.6 505.13,67.0 505.53,103.7 505.93,105.7 506.34,101.1 506.74,96.4 507.14,126.0 507.54,105.2 507.95,123.6 508.35,75.8 508.75,116.2 509.16,128.3 509.56,104.4 509.96,129.6 510.37,108.4 510.77,82.0 511.17,102.7 511.58,102.8 511.98,107.7 512.38,96.3 512.78,131.5 513.19,103.4 513.59,107.6 513.99,123.7 514.40,96.5 514.80,101.7 515.20,98.1 515.61,82.6 516.01,82.0 516.41,106.7 516.82,134.7 517.22,106.3 517.62,102.2 518.02,134.3 518.43,75.6 518.83,100.0 519.23,111.6 519.64,94.4 520.04,102.1 520.44,116.8 520.85,102.0 521.25,98.8 521.65,67.0 522.05,87.9 522.46,117.8 522.86,101.3 523.26,97.1 523.67,137.0 524.07,105.3 524.47,131.7 524.88,112.5 525.28,104.7 525.68,106.7 526.09,100.9 526.49,139.1 526.89,68.4 527.29,120.2 527.70,109.0 528.10,123.2 528.50,101.6 528.91,142.5 529.31,101.8 529.71,115.7 530.12,129.0 530.52,115.5 530.92,103.6 531.33,115.7 531.73,110.9 532.13,104.9 532.53,74.0 532.94,96.6 533.34,109.7 533.74,94.5 534.15,105.4 534.55,139.8 534.95,107.7 535.36,106.3 535.76,96.8 536.16,88.7 536.57,75.4 536.97,78.6 537.37,95.3 537.77,104.5 538.18,71.2 538.58,93.4 538.98,97.2 539.39,101.4 539.79,111.7 540.19,137.0 540.60,74.7 541.00,100.9 541.40,90.3 541.80,114.3 542.21,116.7 542.61,101.6 543.01,107.2 543.42,105.1 543.82,72.5 544.22,93.1 544.63,90.9 545.03,107.0 545.43,127.0 545.84,134.3 546.24,100.9 546.64,100.3 547.04,96.1 547.45,106.7 547.85,84.8 548.25,95.9 548.66,97.4 549.06,60.0 549.46,104.0 549.87,105.0 550.27,133.1 550.67,91.1 551.08,131.5 551.48,83.6 551.88,88.1 552.28,104.9 552.69,110.7 553.09,103.2 553.49,39.6 553.90,109.3 554.30,125.6 554.70,120.5 555.11,111.1 555.51,137.0 555.91,109.7 556.31,94.2 556.72,119.6 557.12,96.5 557.52,129.7 557.93,78.0 558.33,96.7 558.73,99.5 559.14,103.6 559.54,94.6 559.94,128.8 560.35,120.0 560.75,125.6 561.15,93.0 561.55,104.1 561.96,103.8 562.36,117.0 562.76,110.1 563.17,104.3 563.57,85.0 563.97,109.3 564.38,98.2 564.78,116.3 565.18,106.9 565.59,134.3 565.99,112.1 566.39,96.4 566.79,115.7 567.20,110.5 567.60,109.9 568.00,107.6 568.41,113.3 568.81,82.0 569.21,110.0 569.62,129.9 570.02,101.7 570.42,97.8 570.83,156.2 571.23,111.3 571.63,108.2 572.03,110.9 572.44,115.8 572.84,120.6 573.24,88.4 573.65,109.2 574.05,115.0 574.45,80.9 574.86,80.8 575.26,116.0 575.66,112.2 576.06,111.4 576.47,99.2 576.87,145.3 577.27,117.6 577.68,133.6 578.08,122.5 578.48,77.2 578.89,83.8 579.29,113.0 579.69,114.5 580.10,68.4 580.50,128.4 580.90,130.3 581.30,144.2 581.71,106.5 582.11,139.8 582.51,148.3 582.92,116.1 583.32,84.6 583.72,129.4 584.13,112.2 584.53,97.6 584.93,104.1 585.34,110.0 585.74,74.0 586.14,105.3 586.54,115.4 586.95,108.2 587.35,142.4 587.75,159.0 588.16,93.1 588.56,88.6 588.96,121.4 589.37,109.8 589.77,142.6 590.17,105.1 590.58,94.6 590.98,71.2 591.38,115.6 591.78,85.6 592.19,110.5 592.59,108.1 592.99,150.7 593.40,131.9 593.80,97.8 594.20,106.0 594.61,114.5 595.01,95.9 595.41,86.9 595.81,91.5 596.22,129.2 596.62,53.3 597.02,95.6 597.43,66.3 597.83,109.2 598.23,100.2 598.64,134.3 599.04,94.2 599.44,103.8 599.85,99.9 600.25,128.2 600.65,105.3 601.05,121.7 601.46,124.7 601.86,75.3 602.26,102.8 602.67,105.0 603.07,103.8 603.47,74.2 603.88,139.8 604.28,90.0 604.68,104.6 605.09,108.5 605.49,112.9 605.89,104.6 606.29,107.3 606.70,115.3 607.10,107.6 607.50,71.2 607.91,117.3 608.31,84.2 608.71,105.2 609.12,74.1 609.52,134.3 609.92,75.5 610.33,119.9 610.73,101.9 611.13,107.1 611.53,115.9 611.94,112.2 612.34,127.5 612.74,107.5 613.15,57.4 613.55,122.0 613.95,91.9 614.36,107.6 614.76,89.9 615.16,139.8 615.56,103.5 615.97,120.8 616.37,107.9 616.77,96.7 617.18,123.6 617.58,107.2 617.98,86.2 618.39,102.3 618.79,90.4 619.19,89.1 619.60,95.4 620.00,103.8 620.40,105.4 620.80,145.3 621.21,104.2 621.61,105.2 622.01,109.5 622.42,106.5 622.82,118.9 623.22,120.7 623.63,77.6 624.03,97.7 624.43,75.3 624.84,107.4 625.24,107.8 625.64,120.4 626.04,119.7 626.45,150.7 626.85,118.3 627.25,115.6 627.66,152.2 628.06,117.6 628.46,110.9 628.87,74.0 629.27,82.5 629.67,140.1 630.07,121.9 630.48,109.5 630.88,152.8 631.28,121.8 631.69,111.0 632.09,143.2 632.49,131.5 632.90,109.4 633.30,108.4 633.70,93.9 634.11,63.2 634.51,105.2 634.91,98.1 635.31,82.4 635.72,118.1 636.12,165.0 636.52,115.5 636.93,131.8 637.33,127.1 637.73,113.4 638.14,109.2 638.54,103.9 638.94,108.1 639.35,102.2 639.75,93.8 640.15,107.7 640.55,75.6 640.96,110.2 641.36,116.2 641.76,102.4 642.17,69.1 642.57,149.7 642.97,100.4 643.38,109.1 643.78,104.3 644.18,112.6 644.59,97.0 644.99,106.7 645.39,56.5 645.79,113.6 646.20,124.7 646.60,124.0 647.00,125.6 647.41,95.2 647.81,150.4 648.21,108.8 648.62,94.4 649.02,85.1 649.42,81.9 649.82,111.5 650.23,37.8 650.63,117.7 651.03,111.1 651.44,106.2 651.84,91.0 652.24,155.8 652.65,72.5 653.05,108.6 653.45,90.1 653.86,89.5 654.26,124.3 654.66,131.0 655.06,110.7 655.47,93.8 655.87,102.6 656.27,98.8 656.68,85.4 657.08,93.9 657.48,76.5 657.89,138.6 658.29,93.7 658.69,99.7 659.10,75.6 659.50,107.2 659.90,104.4 660.30,112.0 660.71,70.3 661.11,146.6 661.51,105.4 661.92,104.7 662.32,115.2 662.72,81.0 663.13,99.1 663.53,100.1 663.93,102.9 664.34,98.5 664.74,110.0 665.14,57.0 665.54,78.0 665.95,97.2 666.35,82.5 666.75,99.8 667.16,137.3 667.56,81.8 667.96,101.7 668.37,104.1 668.77,104.4 669.17,69.6 669.57,112.2 669.98,109.8 670.38,96.7 670.78,102.2 671.19,71.0 671.59,116.1 671.99,94.5 672.40,112.4 672.80,100.9 673.20,143.5 673.61,120.4 674.01,98.8 674.41,98.9 674.81,102.6 675.22,135.0 675.62,87.2 676.02,104.3 676.43,107.5 676.83,110.5 677.23,77.0 677.64,47.8 678.04,102.0 678.44,98.6 678.85,141.0 679.25,83.8 679.65,143.5 680.05,92.9 680.46,134.9 680.86,105.3 681.26,104.2 681.67,96.5 682.07,107.0 682.47,123.8 682.88,80.6 683.28,112.0 683.68,69.4 684.08,96.4 684.49,123.7 684.89,81.4 685.29,115.6 685.70,137.3 686.10,107.6 686.50,111.2 686.91,91.3 687.31,119.8 687.71,96.9 688.12,107.0 688.52,98.1 688.92,117.6 689.32,98.9 689.73,58.6 690.13,60.1 690.53,129.0 690.94,74.3 691.34,103.1 691.74,165.0 692.15,104.4 692.55,112.5 692.95,106.2 693.36,127.7 693.76,96.8 694.16,71.3 694.56,92.0 694.97,112.0 695.37,114.1 695.77,124.8 696.18,69.4 696.58,109.9 696.98,124.6 697.39,110.4 697.79,109.6 698.19,165.0 698.60,128.5 699.00,109.0 699.40,117.6 699.80,114.3 700.21,147.5 700.61,106.8 701.01,115.7 701.42,124.2 701.82,83.0 702.22,126.3 702.63,116.3 703.03,98.1 703.43,140.5 703.83,140.0 704.24,114.7 704.64,124.0 705.04,141.0 705.45,108.3 705.85,102.6 706.25,122.2 706.66,119.9 707.06,114.6 707.46,119.1 707.87,136.5 708.27,125.0 708.67,104.0 709.07,141.0 709.48,100.0 709.88,138.0 710.28,96.0 710.69,120.0"/>
</g>
<rect x="87.45" y="430" width="174.5" height="68.9" rx="4" ry="4" fill="#fff" fill-opacity="0.8" stroke="#c0c0c0" stroke-width="1.15"/>
<line x1="95" y1="446" x2="142.3" y2="446" stroke="#ee82ee" stroke-width="3.1"/>
<line x1="95" y1="477.3" x2="142.3" y2="477.3" stroke="#1f77b4" stroke-width="3.1"/>
<text class="t" x="159.5" y="454.4">JADQ</text>
<text class="t" x="159.5" y="485.5">JADQ-EH</text>
<rect x="76.3" y="15.35" width="664.6" height="495.2" fill="none" stroke="#000" stroke-width="1.3"/>
<g stroke="#000" stroke-width="1.1"><line x1="106.50" y1="510.45" x2="106.50" y2="516.9"/><line x1="187.11" y1="510.45" x2="187.11" y2="516.9"/><line x1="267.72" y1="510.45" x2="267.72" y2="516.9"/><line x1="348.34" y1="510.45" x2="348.34" y2="516.9"/><line x1="428.95" y1="510.45" x2="428.95" y2="516.9"/><line x1="509.56" y1="510.45" x2="509.56" y2="516.9"/><line x1="590.17" y1="510.45" x2="590.17" y2="516.9"/><line x1="670.78" y1="510.45" x2="670.78" y2="516.9"/><line x1="70.3" y1="444.30" x2="76.3" y2="444.30"/><line x1="70.3" y1="347.07" x2="76.3" y2="347.07"/><line x1="70.3" y1="249.85" x2="76.3" y2="249.85"/><line x1="70.3" y1="152.62" x2="76.3" y2="152.62"/><line x1="70.3" y1="55.40" x2="76.3" y2="55.40"/></g>
<g class="t"><text x="106.50" y="539" text-anchor="middle">0</text><text x="187.11" y="539" text-anchor="middle">200</text><text x="267.72" y="539" text-anchor="middle">400</text><text x="348.34" y="539" text-anchor="middle">600</text><text x="428.95" y="539" text-anchor="middle">800</text><text x="509.56" y="539" text-anchor="middle">1000</text><text x="590.17" y="539" text-anchor="middle">1200</text><text x="670.78" y="539" text-anchor="middle">1400</text><text x="63.5" y="452.30" text-anchor="end">20</text><text x="63.5" y="355.07" text-anchor="end">30</text><text x="63.5" y="257.85" text-anchor="end">40</text><text x="63.5" y="160.62" text-anchor="end">50</text><text x="63.5" y="63.40" text-anchor="end">60</text></g>
<text class="t" x="409.5" y="566.2" text-anchor="middle">Training episode</text>
<g transform="rotate(-90)"><g transform="translate(-289.4,28.6) scale(0.91,1)"><text class="s" x="0" y="0" font-size="23.8px">C</text></g><text class="s" x="-273.2" y="32.2" font-size="17px" textLength="35" lengthAdjust="spacingAndGlyphs">total</text></g>
</svg>
</body></html>
